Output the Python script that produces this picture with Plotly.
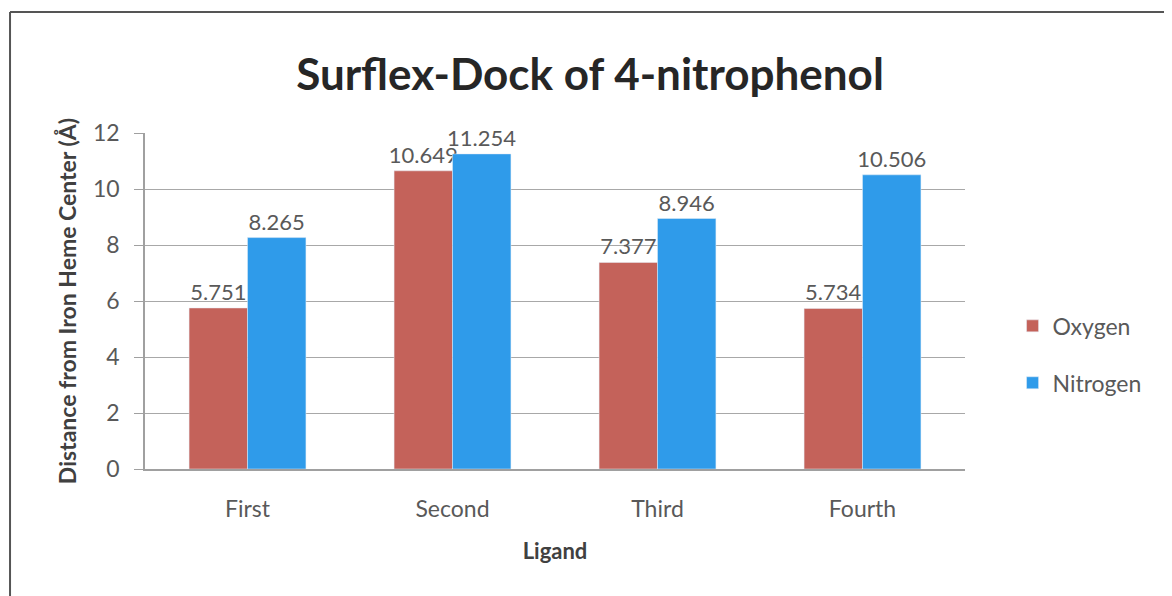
import plotly.graph_objects as go

categories = ["First", "Second", "Third", "Fourth"]
oxygen = [5.751, 10.649, 7.377, 5.734]
nitrogen = [8.265, 11.254, 8.946, 10.506]
oxygen_labels = ["5.751", "10.649", "7.377", "5.734"]
nitrogen_labels = ["8.265", "11.254", "8.946", "10.506"]
y_ticks = [0, 2, 4, 6, 8, 10, 12]

FONT = "Lato"
GRAY = "#595959"

fig = go.Figure()
fig.add_trace(go.Bar(
    name="Oxygen", x=categories, y=oxygen, marker_color="#C4625A", legendgroup="o",
    text=oxygen_labels, textposition="outside", cliponaxis=False, constraintext="none",
    textfont=dict(family=FONT, size=22, color=GRAY),
))
fig.add_trace(go.Bar(
    name="Nitrogen", x=categories, y=nitrogen, marker_color="#2F9BEA", legendgroup="n",
    text=nitrogen_labels, textposition="outside", cliponaxis=False, constraintext="none",
    textfont=dict(family=FONT, size=22, color=GRAY),
))

fig.update_layout(
    width=1164, height=588,
    margin=dict(l=137, r=207, t=125, b=127),
    paper_bgcolor="white", plot_bgcolor="white",
    barmode="group", bargap=0.43, bargroupgap=0,
    title=dict(text="<b>Surflex-Dock of 4-nitrophenol</b>", x=0.5, xanchor="center",
               y=0.886, yanchor="middle",
               font=dict(family=FONT, size=44, color="#262626")),
    font=dict(family=FONT, color=GRAY),
    legend=dict(x=1.058, y=0.341, xanchor="left", yanchor="middle",
                font=dict(family=FONT, size=23, color=GRAY),
                itemwidth=30, tracegroupgap=24, bgcolor="rgba(0,0,0,0)"),
)
fig.update_xaxes(
    showline=True, linecolor="#A0A0A0", linewidth=1.5,
    tickfont=dict(family=FONT, size=23, color=GRAY),
    ticklabelstandoff=19,
    title=dict(text="<b>Ligand</b>", font=dict(family=FONT, size=22, color="#404040"), standoff=22),
    ticks="",
)
fig.update_yaxes(
    range=[0, 12], tickvals=y_ticks, showgrid=True, gridcolor="#A8A8A8", gridwidth=1.2,
    showline=True, linecolor="#A0A0A0", linewidth=1.5,
    ticks="outside", ticklen=9, tickcolor="#A0A0A0",
    tickfont=dict(family=FONT, size=23, color=GRAY),
    ticklabelstandoff=10,
    title=dict(text="<b>Distance from Iron Heme Center (Å)</b>",
               font=dict(family=FONT, size=23, color="#404040"), standoff=10),
    zeroline=False,
)
# outer chart frame (left and top edges visible in the scan)
fig.add_shape(type="line", xref="paper", yref="paper", x0=-0.1646, x1=-0.1646, y0=-0.4, y1=1.36,
              line=dict(color="#555555", width=2))
fig.add_shape(type="line", xref="paper", yref="paper", x0=-0.1646, x1=1.26, y0=1.36, y1=1.36,
              line=dict(color="#555555", width=2))

fig.write_html("out.html")
